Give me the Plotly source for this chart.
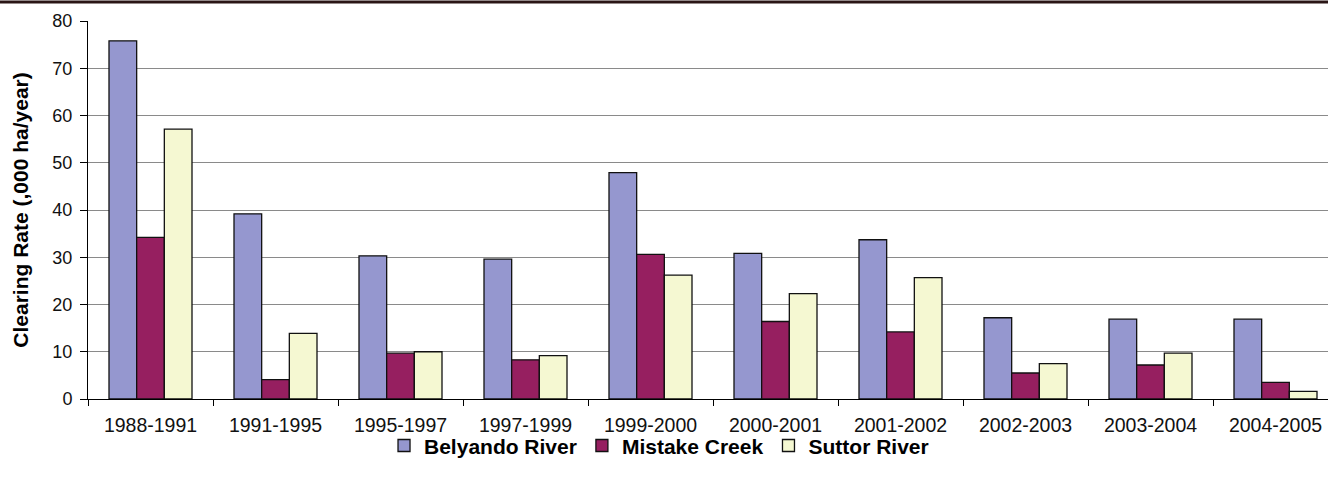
import plotly.graph_objects as go

categories = ["1988-1991", "1991-1995", "1995-1997", "1997-1999", "1999-2000",
              "2000-2001", "2001-2002", "2002-2003", "2003-2004", "2004-2005"]
belyando = [75.8, 39.2, 30.3, 29.6, 47.9, 30.8, 33.7, 17.2, 16.9, 16.9]
mistake = [34.2, 4.1, 9.7, 8.3, 30.6, 16.4, 14.2, 5.5, 7.2, 3.5]
suttor = [57.1, 13.9, 10.0, 9.2, 26.2, 22.3, 25.7, 7.5, 9.7, 1.6]

series = [
    ("Belyando River", belyando, "#9597CF"),
    ("Mistake Creek", mistake, "#961F60"),
    ("Suttor River", suttor, "#F5F8D2"),
]

FONT = "Arial, 'Liberation Sans', sans-serif"

fig = go.Figure()
for name, vals, col in series:
    fig.add_trace(go.Bar(
        x=categories, y=vals, name=name,
        marker=dict(color=col, line=dict(color="#111111", width=1.3)),
    ))

fig.update_layout(
    width=1328, height=484,
    margin=dict(l=88, r=0, t=21, b=85, autoexpand=False),
    paper_bgcolor="white", plot_bgcolor="white",
    barmode="group", bargap=0.336, bargroupgap=0,
    font=dict(family=FONT, color="black"),
    showlegend=True,
    legend=dict(orientation="h", x=0.4605, xanchor="center", y=-0.124, yanchor="middle",
                font=dict(family=FONT, size=21, color="black", weight="bold"),
                itemwidth=30, traceorder="normal", tracegroupgap=0,
                bgcolor="rgba(0,0,0,0)"),
    xaxis=dict(
        type="category", range=[-0.5, 9.42], automargin=False,
        showline=True, linecolor="black", linewidth=1,
        ticks="outside", tickson="boundaries", ticklen=6, tickcolor="black",
        tickfont=dict(family=FONT, size=19.5, color="#111111"),
        ticklabelstandoff=9,
        showgrid=False, zeroline=False,
    ),
    yaxis=dict(
        range=[0, 80], dtick=10, automargin=False,
        showline=True, linecolor="black", linewidth=1,
        ticks="outside", ticklen=7, tickcolor="black",
        tickfont=dict(family=FONT, size=18, color="#111111"),
        ticklabelstandoff=4,
        showgrid=True, gridcolor="#8a8a8a", gridwidth=1,
        zeroline=False,
        title=dict(text="Clearing Rate (,000 ha/year)",
                   font=dict(family=FONT, size=21, color="black", weight="bold"),
                   standoff=18),
    ),
    shapes=[dict(type="line", xref="paper", yref="paper",
                 x0=-88/1240, x1=1.0, y0=1 + 19/378, y1=1 + 19/378,
                 line=dict(color="#2a1616", width=3))],
)

fig.write_html("out.html",
               config={"displayModeBar": False},
               post_script="document.body.style.margin='0';document.body.style.overflow='hidden';")
